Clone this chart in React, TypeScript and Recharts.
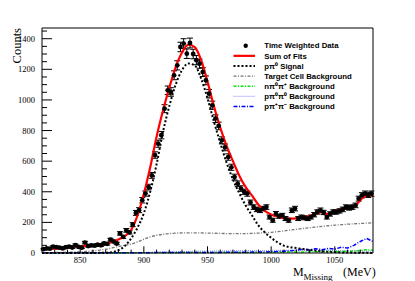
import React from 'react';
import { ComposedChart, Scatter, Line, XAxis, YAxis, ErrorBar } from 'recharts';

// ---------- data ----------
const massBins = [
  821.25, 823.75, 826.25, 828.75, 831.25, 833.75, 836.25, 838.75,
  841.25, 843.75, 846.25, 848.75, 851.25, 853.75, 856.25, 858.75,
  861.25, 863.75, 866.25, 868.75, 871.25, 873.75, 876.25, 878.75,
  881.25, 883.75, 886.25, 888.75, 891.25, 893.75, 896.25, 898.75,
  901.25, 903.75, 906.25, 908.75, 911.25, 913.75, 916.25, 918.75,
  921.25, 923.75, 926.25, 928.75, 931.25, 933.75, 936.25, 938.75,
  941.25, 943.75, 946.25, 948.75, 951.25, 953.75, 956.25, 958.75,
  961.25, 963.75, 966.25, 968.75, 971.25, 973.75, 976.25, 978.75,
  981.25, 983.75, 986.25, 988.75, 991.25, 993.75, 996.25, 998.75,
  1001.25, 1003.75, 1006.25, 1008.75, 1011.25, 1013.75, 1016.25, 1018.75,
  1021.25, 1023.75, 1026.25, 1028.75, 1031.25, 1033.75, 1036.25, 1038.75,
  1041.25, 1043.75, 1046.25, 1048.75, 1051.25, 1053.75, 1056.25, 1058.75,
  1061.25, 1063.75, 1066.25, 1068.75, 1071.25, 1073.75, 1076.25, 1078.75,
];

const counts = [
  25, 30, 28, 42, 38, 35, 30, 38,
  42, 36, 52, 40, 35, 68, 45, 50,
  48, 55, 50, 62, 60, 87, 75, 62,
  128, 105, 148, 135, 185, 262, 280, 345,
  388, 431, 507, 640, 714, 770, 943, 1063,
  1052, 1161, 1226, 1346, 1368, 1302, 1372, 1300,
  1260, 1237, 1182, 1128, 1041, 965, 878, 830,
  736, 690, 627, 560, 496, 453, 421, 400,
  388, 330, 300, 285, 279, 290, 300, 235,
  214, 257, 240, 246, 225, 214, 279, 290,
  225, 235, 230, 225, 235, 250, 268, 279,
  265, 235, 255, 268, 268, 275, 285, 300,
  295, 300, 311, 355, 377, 388, 380, 388,
];

const errors = [
  5, 5, 5, 6, 6, 6, 5, 6,
  6, 6, 7, 6, 6, 8, 6, 7,
  7, 7, 7, 8, 8, 9, 8, 8,
  11, 10, 12, 11, 13, 16, 16, 18,
  17, 18, 19, 21, 23, 24, 26, 28,
  28, 29, 30, 31, 32, 31, 32, 31,
  30, 30, 29, 29, 28, 27, 25, 25,
  23, 22, 21, 20, 19, 18, 18, 17,
  17, 16, 15, 15, 15, 15, 15, 13,
  13, 14, 13, 13, 13, 13, 15, 15,
  13, 13, 13, 13, 13, 14, 14, 15,
  14, 13, 14, 14, 14, 14, 15, 15,
  15, 15, 15, 16, 17, 17, 17, 17,
];

const curveMass = [
  820, 825, 830, 835, 840, 845, 850, 855, 860, 865,
  870, 875, 880, 885, 890, 895, 900, 905, 910, 915,
  920, 925, 930, 935, 940, 945, 950, 955, 960, 965,
  970, 975, 980, 985, 990, 995, 1000, 1005, 1010, 1015,
  1020, 1025, 1030, 1035, 1040, 1045, 1050, 1055, 1060, 1065,
  1070, 1075, 1080,
];

const sumOfFits = [
  22, 25, 28, 31, 35, 39, 43, 47, 51, 55,
  60, 72, 88, 110, 150, 245, 385, 560, 760, 930,
  1080, 1215, 1310, 1362, 1345, 1260, 1120, 960, 820, 700,
  600, 505, 430, 375, 315, 275, 252, 238, 228, 224,
  226, 230, 242, 255, 268, 252, 272, 285, 295, 300,
  345, 377, 377,
];

const signal = [
  0, 0, 0, 0, 0, 0, 0, 0, 0, 1,
  2, 5, 18, 45, 95, 165, 260, 400, 580, 790,
  960, 1100, 1195, 1238, 1225, 1140, 1010, 860, 720, 590,
  480, 390, 310, 245, 180, 135, 100, 70, 48, 38,
  32, 26, 20, 15, 11, 8, 6, 4, 3, 2,
  1, 1, 0,
];

const targetCell = [
  2, 2, 3, 4, 5, 6, 8, 10, 14, 19,
  25, 33, 42, 50, 58, 72, 90, 105, 115, 122,
  127, 130, 131, 132, 132, 131, 130, 129, 128, 127,
  126, 126, 127, 128, 130, 132, 135, 139, 144, 150,
  155, 160, 165, 170, 174, 178, 182, 185, 188, 191,
  193, 195, 197,
];

const npi0pip = [
  1, 1, 1, 1, 1, 1, 1, 1, 1, 1,
  1, 1, 1, 1, 1, 1, 2, 2, 2, 2,
  2, 2, 3, 3, 3, 3, 3, 3, 3, 3,
  3, 3, 3, 4, 4, 4, 5, 5, 6, 6,
  7, 7, 8, 8, 9, 10, 8, 12, 10, 14,
  16, 22, 18,
];

const ppi0pi0 = [
  1, 1, 1, 1, 1, 1, 1, 1, 1, 1,
  1, 1, 2, 2, 2, 3, 3, 4, 5, 6,
  7, 8, 9, 10, 11, 12, 12, 13, 14, 14,
  15, 15, 15, 16, 16, 16, 16, 17, 17, 17,
  17, 18, 18, 18, 17, 17, 16, 16, 15, 15,
  14, 13, 12,
];

const ppippim = [
  2, 2, 2, 2, 2, 2, 2, 2, 2, 2,
  2, 2, 2, 2, 2, 2, 2, 2, 3, 3,
  3, 3, 3, 3, 3, 4, 4, 4, 4, 5,
  5, 5, 5, 6, 6, 7, 8, 10, 12, 15,
  18, 25, 20, 28, 22, 30, 25, 38, 32, 50,
  75, 95, 75,
];

const xTicks = [830, 840, 850, 860, 870, 880, 890, 900, 910, 920, 930, 940, 950, 960, 970, 980, 990, 1000, 1010, 1020, 1030, 1040, 1050, 1060, 1070];
const xMajor = [850, 900, 950, 1000, 1050];
const yTicks = [0, 50, 100, 150, 200, 250, 300, 350, 400, 450, 500, 550, 600, 650, 700, 750, 800, 850, 900, 950, 1000, 1050, 1100, 1150, 1200, 1250, 1300, 1350, 1400, 1450];
const yMajor = [0, 200, 400, 600, 800, 1000, 1200, 1400];

const legendLabels = [
  'Time Weighted Data',
  'Sum of Fits',
  'pπ⁰ Signal',
  'Target Cell Background',
  'nπ⁰π⁺ Background',
  'pπ⁰π⁰ Background',
  'pπ⁺π⁻ Background',
];

// ---------- tables ----------
const pointsTable = massBins.map((m, i) => ({ m, count: counts[i], err: errors[i] }));
const curve = (vals: number[]) => curveMass.map((m, i) => ({ m, v: vals[i] }));

const SERIF = '"Liberation Serif", "Times New Roman", serif';
const SANS = '"Liberation Sans", Arial, sans-serif';

const XTick = (props: any) => {
  const { x, y, payload } = props;
  const major = xMajor.includes(payload.value);
  return (
    <g>
      <line x1={x} x2={x} y1={y} y2={y - (major ? 6.7 : 3.4)} stroke="#000" strokeWidth={1} />
      {major && (
        <text x={x} y={y + 9.5} textAnchor="middle" fontSize={8.5} fontFamily={SERIF} fill="#000">
          {payload.value}
        </text>
      )}
    </g>
  );
};

const YTick = (props: any) => {
  const { x, y, payload } = props;
  const major = yMajor.includes(payload.value);
  return (
    <g>
      {payload.value !== 0 && (
        <line x1={x} x2={x + (major ? 10 : 5)} y1={y} y2={y} stroke="#000" strokeWidth={1} />
      )}
      {major && (
        <text x={x - 7} y={y + 3} textAnchor="end" fontSize={8.5} fontFamily={SERIF} fill="#000">
          {payload.value}
        </text>
      )}
    </g>
  );
};

const DataDot = (props: any) => <circle cx={props.cx} cy={props.cy} r={2.4} fill="#000" />;

const legendStyles = [
  { kind: 'dot' },
  { stroke: '#ff0000', dash: undefined, width: 2.2 },
  { stroke: '#000000', dash: '2 2', width: 2 },
  { stroke: '#777777', dash: '3 1.5 1 1.5', width: 1.3 },
  { stroke: '#00ee00', dash: '3 1.5 1 1.5', width: 1.5 },
  { stroke: '#9a9aff', dash: '1 1', width: 1.3 },
  { stroke: '#0000ff', dash: '4 1.5 1 1.5', width: 1.5 },
];

export default function App() {
  return (
    <div style={{ position: 'absolute', left: 0, top: 0, width: 415, height: 281, background: '#fff' }}>
      <ComposedChart width={415} height={281} margin={{ top: 27, right: 41, bottom: 8, left: 2 }}>
        <XAxis
          dataKey="m"
          type="number"
          domain={[820, 1080]}
          ticks={xTicks}
          interval={0}
          tick={<XTick />}
          tickLine={false}
          tickSize={0}
          tickMargin={0}
          height={20}
          axisLine={{ stroke: '#000', strokeWidth: 1 }}
        />
        <XAxis
          xAxisId="top"
          orientation="top"
          type="number"
          domain={[820, 1080]}
          tick={false}
          tickLine={false}
          height={1}
          axisLine={{ stroke: '#000', strokeWidth: 1 }}
        />
        <YAxis
          type="number"
          domain={[0, 1470]}
          ticks={yTicks}
          interval={0}
          tick={<YTick />}
          tickLine={false}
          tickSize={0}
          tickMargin={0}
          width={40}
          axisLine={{ stroke: '#000', strokeWidth: 1 }}
        />
        <YAxis
          yAxisId="right"
          orientation="right"
          type="number"
          domain={[0, 1470]}
          tick={false}
          tickLine={false}
          width={1}
          axisLine={{ stroke: '#000', strokeWidth: 1 }}
        />
        <Scatter data={pointsTable} dataKey="count" shape={<DataDot />} fill="#000" isAnimationActive={false}>
          <ErrorBar dataKey="err" direction="y" width={3} stroke="#000" strokeWidth={1} isAnimationActive={false} />
        </Scatter>
        <Line data={curve(ppi0pi0)} dataKey="v" type="monotone" stroke="#9a9aff" strokeWidth={1.3} strokeDasharray="1 1" dot={false} activeDot={false} isAnimationActive={false} />
        <Line data={curve(npi0pip)} dataKey="v" type="linear" stroke="#00ee00" strokeWidth={1.5} strokeDasharray="3 1.5 1 1.5" dot={false} activeDot={false} isAnimationActive={false} />
        <Line data={curve(ppippim)} dataKey="v" type="linear" stroke="#0000ff" strokeWidth={1.5} strokeDasharray="4 1.5 1 1.5" dot={false} activeDot={false} isAnimationActive={false} />
        <Line data={curve(targetCell)} dataKey="v" type="monotone" stroke="#777777" strokeWidth={1.3} strokeDasharray="3 1.5 1 1.5" dot={false} activeDot={false} isAnimationActive={false} />
        <Line data={curve(signal)} dataKey="v" type="monotone" stroke="#000000" strokeWidth={2} strokeDasharray="2 2" dot={false} activeDot={false} isAnimationActive={false} />
        <Line data={curve(sumOfFits)} dataKey="v" type="monotone" stroke="#ff0000" strokeWidth={2.2} dot={false} activeDot={false} isAnimationActive={false} />
      </ComposedChart>
      <svg width={415} height={281} style={{ position: 'absolute', left: 0, top: 0, pointerEvents: 'none' }}>
        <text
          transform="translate(20.5,28) rotate(-90)"
          textAnchor="end"
          fontSize={12.5}
          fontFamily={SERIF}
          fill="#000"
        >
          Counts
        </text>
        <text y={276} fontFamily={SERIF} fill="#000">
          <tspan x={293} fontSize={12}>M</tspan>
          <tspan x={303.5} y={280} fontSize={9}>Missing</tspan>
          <tspan x={343} y={276} fontSize={12}>(MeV)</tspan>
        </text>
        {legendLabels.map((label, i) => {
          const cy = 45.7 + i * 10.15;
          const st: any = legendStyles[i];
          return (
            <g key={label}>
              {st.kind === 'dot' ? (
                <circle cx={245.7} cy={cy} r={2.2} fill="#000" />
              ) : (
                <line x1={233.5} x2={255} y1={cy} y2={cy} stroke={st.stroke} strokeWidth={st.width} strokeDasharray={st.dash} />
              )}
              <text x={264.3} y={cy + 2.7} fontSize={7.8} fontWeight="bold" fontFamily={SANS} fill="#000">
                {label}
              </text>
            </g>
          );
        })}
      </svg>
    </div>
  );
}
